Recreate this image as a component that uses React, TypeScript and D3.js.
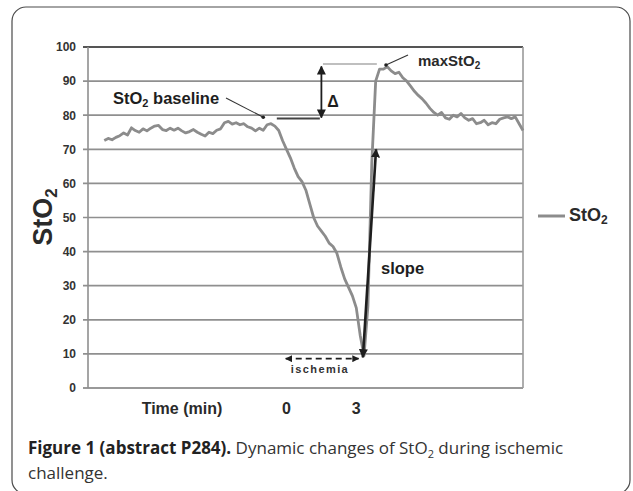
import React from "react";
import * as d3 from "d3";

// StO2 samples, one every SAMPLE_SEC seconds starting at START_SEC (time 0 = start of ischemia)
const START_SEC = -470;
const SAMPLE_SEC = 10;
const sto2Values = [
  72.6, 73.2, 72.8, 73.5, 74.0, 74.8, 74.2, 76.3, 75.5, 75.0,
  76.0, 75.4, 76.2, 76.8, 77.0, 75.8, 75.5, 76.2, 75.6, 76.2,
  75.4, 74.8, 75.2, 75.8, 75.0, 74.4, 73.9, 75.0, 74.6, 75.6,
  76.0, 77.8, 78.2, 77.4, 77.8, 77.2, 77.5, 76.6, 76.2, 75.4,
  76.2, 75.6, 77.2, 77.5, 76.8, 75.5, 72.5, 70.0, 67.5, 64.5,
  62.0, 60.5, 58.0, 54.0, 50.0, 47.5, 46.0, 44.5, 42.5, 41.5,
  39.5, 35.5, 32.0, 29.5, 27.0, 23.5, 15.5, 9.5, 24.0, 66.0,
  90.0, 93.5, 93.5, 94.2, 93.0, 92.2, 92.6, 91.0, 90.0, 88.5,
  87.0, 85.8, 84.8, 83.5, 82.0, 80.8, 80.0, 80.8, 79.2, 78.8,
  80.0, 79.5, 80.5, 79.2, 78.5, 79.0, 77.5, 77.8, 78.5, 77.2,
  77.8, 77.5, 78.8, 79.2, 79.5, 79.0, 79.5, 77.5, 75.5,
];

const yTicks = [0, 10, 20, 30, 40, 50, 60, 70, 80, 90, 100];
const xTickLabels = [
  { sec: 0, label: "0" },
  { sec: 180, label: "3" },
];
const xDomain = [-512, 610];

// annotation anchors in data units (seconds, StO2)
const baselineLevel = 79;
const baselineSpan = [-25, 86];
const maxLevel = 95;
const maxSpan = [94, 233];
const deltaSec = 90;
const deltaRange = [79.3, 94.3];
const slopeFrom = [197, 9];
const slopeTo = [231, 70];
const ischemiaSpan = [-2, 186];
const ischemiaLevel = 8.6;

const GRAY = "#8c8c8c";
const INK = "#1e1e1e";
const CHART_FONT = "'Liberation Sans', Arial, sans-serif";
const CAPTION_FONT = "'Open Sans', 'Noto Sans', sans-serif";

export default function App() {
  const x = d3.scaleLinear().domain(xDomain).range([88, 523]);
  const y = d3.scaleLinear().domain([0, 100]).range([388, 47]);
  const times = sto2Values.map((_, i) => START_SEC + i * SAMPLE_SEC);
  const line = d3
    .line<number>()
    .x((_, i) => x(times[i]))
    .y((d) => y(d));

  const [x0, x1] = x.range();

  return (
    <svg
      width={633}
      height={491}
      style={{ position: "absolute", left: 0, top: 0, background: "#fff" }}
    >
      <defs>
        <marker id="ah" viewBox="0 0 10 10" refX="9" refY="5" markerWidth="9" markerHeight="9" markerUnits="userSpaceOnUse" orient="auto-start-reverse">
          <path d="M0,0 L10,5 L0,10 z" fill={INK} />
        </marker>
        <marker id="ahs" viewBox="0 0 10 10" refX="9" refY="5" markerWidth="7" markerHeight="7" markerUnits="userSpaceOnUse" orient="auto-start-reverse">
          <path d="M0,0 L10,5 L0,10 z" fill={INK} />
        </marker>
      </defs>

      {/* frame */}
      <rect x={12} y={7} width={618} height={487} rx={14} ry={14} fill="none" stroke="#4a4a4a" strokeWidth={1.2} />

      {/* gridlines */}
      {yTicks.map((t) => (
        <g key={t}>
          <line
            x1={x0 - 5}
            x2={x1}
            y1={y(t)}
            y2={y(t)}
            stroke={t === 100 ? "#555" : t === 0 ? "#777" : "#8f8f8f"}
            strokeWidth={t === 100 ? 2.2 : 1.7}
          />
          <text
            x={76}
            y={y(t)}
            dy="0.36em"
            textAnchor="end"
            fontFamily={CHART_FONT}
            fontWeight="bold"
            fontSize={12}
            fill="#333"
          >
            {t}
          </text>
        </g>
      ))}
      <line x1={x0} x2={x0} y1={y(100)} y2={y(0)} stroke="#8f8f8f" strokeWidth={1.6} />
      <line x1={x1} x2={x1} y1={y(100)} y2={y(0)} stroke="#9a9a9a" strokeWidth={1.6} />

      {/* y title */}
      <text
        transform={`translate(52,${217}) rotate(-90)`}
        textAnchor="middle"
        fontFamily={CHART_FONT}
        fontWeight="bold"
        fontSize={27}
        fill="#2a2a2a"
      >
        StO<tspan fontSize={17} dy={5}>2</tspan>
      </text>

      {/* x labels */}
      <text x={182} y={414} textAnchor="middle" fontFamily={CHART_FONT} fontWeight="bold" fontSize={16} fill="#2a2a2a">
        Time (min)
      </text>
      {xTickLabels.map((d) => (
        <text key={d.label} x={x(d.sec)} y={414} textAnchor="middle" fontFamily={CHART_FONT} fontWeight="bold" fontSize={16} fill="#2a2a2a">
          {d.label}
        </text>
      ))}

      {/* series */}
      <path d={line(sto2Values) || ""} fill="none" stroke={GRAY} strokeWidth={2.8} strokeLinejoin="round" />

      {/* baseline annotation */}
      <line x1={x(baselineSpan[0])} x2={x(baselineSpan[1])} y1={y(baselineLevel)} y2={y(baselineLevel)} stroke="#444" strokeWidth={2} />
      <text x={113} y={104} fontFamily={CHART_FONT} fontWeight="bold" fontSize={16.5} fill={INK}>
        StO<tspan fontSize={11} dy={3}>2</tspan>
        <tspan dy={-3}> baseline</tspan>
      </text>
      <line x1={226} y1={98} x2={x(-60)} y2={y(79.4)} stroke="#333" strokeWidth={1.1} />
      <circle cx={x(-60)} cy={y(79.4)} r={1.8} fill="#222" />

      {/* max annotation */}
      <line x1={x(maxSpan[0])} x2={x(maxSpan[1])} y1={y(maxLevel)} y2={y(maxLevel)} stroke="#aaa" strokeWidth={1.4} />
      <text x={418} y={66} fontFamily={CHART_FONT} fontWeight="bold" fontSize={15} fill="#2a2a2a">
        maxStO<tspan fontSize={10} dy={3}>2</tspan>
      </text>
      <line x1={408} y1={55} x2={386} y2={65} stroke="#333" strokeWidth={1.1} />
      <circle cx={386} cy={65} r={1.8} fill="#222" />

      {/* delta arrow */}
      <line
        x1={x(deltaSec)}
        x2={x(deltaSec)}
        y1={y(deltaRange[0])}
        y2={y(deltaRange[1])}
        stroke={INK}
        strokeWidth={1.8}
        markerStart="url(#ah)"
        markerEnd="url(#ah)"
      />
      <text x={333} y={107} textAnchor="middle" fontFamily={CHART_FONT} fontWeight="bold" fontSize={16} fill={INK}>
        Δ
      </text>

      {/* slope arrow */}
      <line
        x1={x(slopeFrom[0])}
        y1={y(slopeFrom[1])}
        x2={x(slopeTo[0])}
        y2={y(slopeTo[1])}
        stroke={INK}
        strokeWidth={2.6}
        markerStart="url(#ah)"
        markerEnd="url(#ah)"
      />
      <text x={381} y={274} fontFamily={CHART_FONT} fontWeight="bold" fontSize={16.5} fill={INK}>
        slope
      </text>

      {/* ischemia arrow */}
      <line
        x1={x(ischemiaSpan[0])}
        x2={x(ischemiaSpan[1])}
        y1={y(ischemiaLevel)}
        y2={y(ischemiaLevel)}
        stroke={INK}
        strokeWidth={1.8}
        strokeDasharray="6 4"
        markerStart="url(#ahs)"
        markerEnd="url(#ahs)"
      />
      <text x={320} y={373} textAnchor="middle" fontFamily={CHART_FONT} fontWeight="bold" fontSize={11} letterSpacing={1.4} fill="#333">
        ischemia
      </text>

      {/* legend */}
      <line x1={538} x2={565} y1={216} y2={216} stroke={GRAY} strokeWidth={3} />
      <text x={569} y={221} fontFamily={CHART_FONT} fontWeight="bold" fontSize={18} fill="#2a2a2a">
        StO<tspan fontSize={12} dy={3}>2</tspan>
      </text>

      {/* caption */}
      <text x={28} y={454} fontFamily={CAPTION_FONT} fontSize={17} fill="#333">
        <tspan fontWeight="bold" fill="#222">Figure 1 (abstract P284).</tspan>
        <tspan> Dynamic changes of StO</tspan>
        <tspan fontSize={11} dy={4}>2</tspan>
        <tspan dy={-4}> during ischemic</tspan>
      </text>
      <text x={28} y={479} fontFamily={CAPTION_FONT} fontSize={17} fill="#333">
        challenge.
      </text>
    </svg>
  );
}
